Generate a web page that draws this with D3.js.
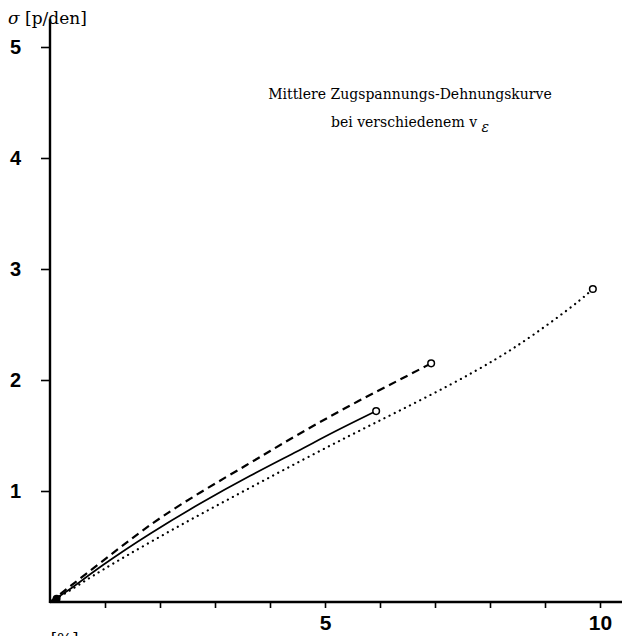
<!DOCTYPE html>
<html>
<head>
<meta charset="utf-8">
<script src="https://cdn.jsdelivr.net/npm/d3@7"></script>
<style>
  body { margin: 0; background: #fff; }
  svg { display: block; }
</style>
</head>
<body>
<div id="chart"></div>
<script>
// strain [%] / stress [p/den]
var dashedCurve = [[0, 0], [0.36, 0.14], [0.91, 0.35], [1.45, 0.56], [2.0, 0.76], [2.8, 1.01], [3.6, 1.24],
                   [4.2, 1.42], [4.9, 1.62], [5.6, 1.81], [6.35, 2.00], [6.93, 2.15]];
var solidCurve = [[0, 0], [0.36, 0.11], [0.91, 0.32], [1.82, 0.62], [2.73, 0.89], [3.64, 1.14],
                  [4.55, 1.37], [5.15, 1.53], [5.93, 1.72]];
var dottedCurve = [[0, 0], [0.36, 0.10], [0.91, 0.28], [1.82, 0.54], [2.73, 0.79], [3.64, 1.03],
                   [4.55, 1.27], [5.45, 1.50], [6.3, 1.71], [7.3, 1.96], [8.13, 2.19], [8.78, 2.40],
                   [9.6, 2.70], [9.87, 2.82]];
var xTicks = [1, 2, 3, 4, 5, 6, 7, 8, 9, 10];
var xTickLabels = [5, 10];
var yTicks = [1, 2, 3, 4, 5];
var titleLines = ["Mittlere Zugspannungs-Dehnungskurve", "bei verschiedenem v"];

var w = 626, h = 636;

var x = d3.scaleLinear().domain([0, 10]).range([50, 600]);
var y = d3.scaleLinear().domain([0, 5]).range([602, 47]);

var svg = d3.select("#chart").append("svg")
    .attr("width", w)
    .attr("height", h);

// axes
var xAxis = svg.append("g")
    .attr("transform", "translate(0," + y(0) + ")")
    .call(d3.axisBottom(x).tickValues(xTicks).tickSize(6).tickPadding(7)
        .tickFormat(function(d) { return xTickLabels.indexOf(d) >= 0 ? d : ""; }));
xAxis.select(".domain").remove();
xAxis.selectAll("line").attr("stroke", "#000").attr("stroke-width", 1.6);
xAxis.selectAll("text")
    .attr("fill", "#000")
    .style("font-family", "'Liberation Sans', Arial, sans-serif")
    .style("font-weight", "bold")
    .style("font-size", "21px");

var yAxis = svg.append("g")
    .attr("transform", "translate(" + x(0) + ",0)")
    .call(d3.axisLeft(y).tickValues(yTicks).tickSize(9).tickPadding(20).tickFormat(d3.format("d")));
yAxis.select(".domain").remove();
yAxis.selectAll("line").attr("stroke", "#000").attr("stroke-width", 1.6);
yAxis.selectAll("text")
    .attr("fill", "#000")
    .style("font-family", "'Liberation Sans', Arial, sans-serif")
    .style("font-weight", "bold")
    .style("font-size", "20px");

svg.append("line")
    .attr("x1", x(0)).attr("y1", y(0))
    .attr("x2", x(10.4)).attr("y2", y(0))
    .attr("stroke", "#000").attr("stroke-width", 2.4);
svg.append("line")
    .attr("x1", x(0)).attr("y1", y(0) + 1)
    .attr("x2", x(0)).attr("y2", y(5.25))
    .attr("stroke", "#000").attr("stroke-width", 2.4);

// curves
var line = d3.line()
    .x(function(d) { return x(d[0]); })
    .y(function(d) { return y(d[1]); })
    .curve(d3.curveBasis);

svg.append("path").datum(dottedCurve)
    .attr("d", line).attr("fill", "none")
    .attr("stroke", "#000").attr("stroke-width", 2.2)
    .attr("stroke-linecap", "round")
    .attr("stroke-dasharray", "0.1,5.6");

svg.append("path").datum(dashedCurve)
    .attr("d", line).attr("fill", "none")
    .attr("stroke", "#000").attr("stroke-width", 2.2)
    .attr("stroke-dasharray", "8,5");

svg.append("path").datum(solidCurve)
    .attr("d", line).attr("fill", "none")
    .attr("stroke", "#000").attr("stroke-width", 1.7);

// break points (open circles at curve ends)
var ends = [dashedCurve, solidCurve, dottedCurve].map(function(c) { return c[c.length - 1]; });
svg.selectAll(".endpt").data(ends).enter().append("circle")
    .attr("class", "endpt")
    .attr("cx", function(d) { return x(d[0]); })
    .attr("cy", function(d) { return y(d[1]); })
    .attr("r", 3.3)
    .attr("fill", "#fff")
    .attr("stroke", "#000")
    .attr("stroke-width", 1.5);

// blob at origin
svg.append("circle")
    .attr("cx", x(0.12)).attr("cy", y(0.03)).attr("r", 4)
    .attr("fill", "#000");

// labels
var serif = "'DejaVu Serif', 'Liberation Serif', serif";

var yl = svg.append("text")
    .attr("x", 8).attr("y", 24)
    .attr("fill", "#000")
    .style("font-family", serif)
    .style("font-size", "17px");
yl.append("tspan").style("font-style", "italic").text("σ");
yl.append("tspan").text(" [p/den]");

var xl = svg.append("text")
    .attr("x", 37).attr("y", 645)
    .attr("fill", "#000")
    .style("font-family", serif)
    .style("font-size", "16px");
xl.append("tspan").style("font-style", "italic").text("ε");
xl.append("tspan").text(" [%]");

var title = svg.append("text")
    .attr("text-anchor", "middle")
    .attr("fill", "#000")
    .style("font-family", serif)
    .style("font-size", "14px");
title.append("tspan")
    .attr("x", 410).attr("y", 99)
    .text(titleLines[0]);
title.append("tspan")
    .attr("x", 410).attr("y", 127)
    .text(titleLines[1] + " ");
title.append("tspan")
    .attr("dy", 5)
    .style("font-style", "italic")
    .style("font-size", "14px")
    .text("ε");
</script>
</body>
</html>
